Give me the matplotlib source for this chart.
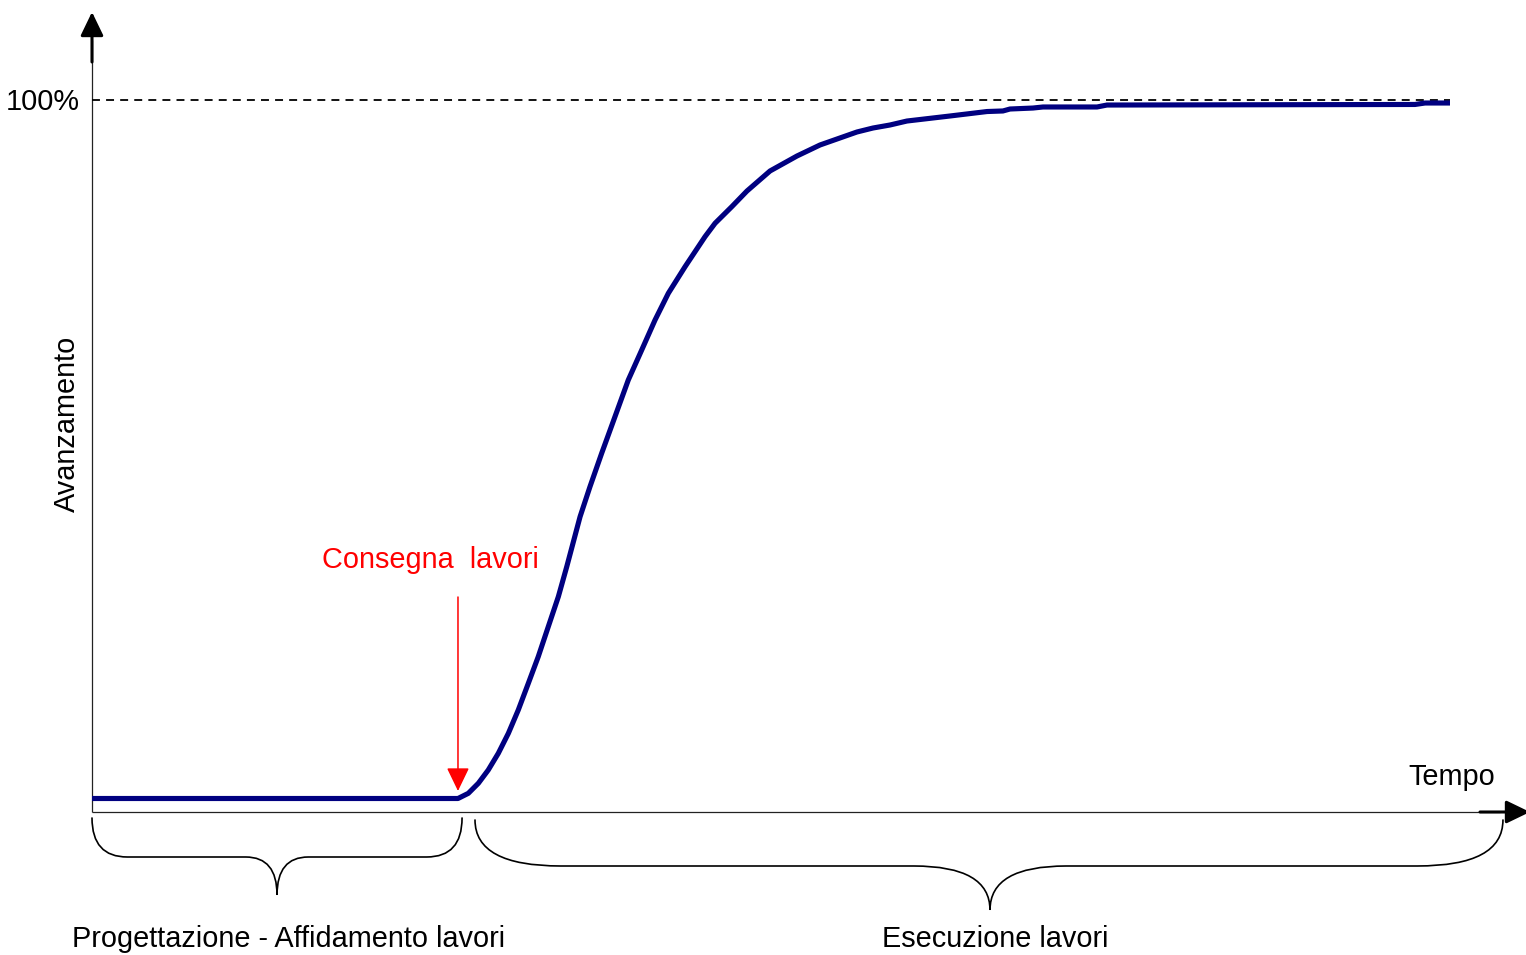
import matplotlib
matplotlib.use("Agg")
import matplotlib.pyplot as plt
from matplotlib.path import Path
from matplotlib.patches import PathPatch

plt.rcParams['font.family'] = ['Liberation Sans', 'DejaVu Sans']

# ---- data (time in arbitrary units 0..100, progress in %) ----
time = [0, 26.95, 27.71, 28.45, 29.18, 29.92, 30.66, 31.39, 32.13, 32.86,
        33.60, 34.34, 34.96, 35.94, 36.67, 37.53, 38.51, 39.49, 40.48, 41.46,
        42.44, 43.67, 45.14, 45.88, 47.11, 48.23, 49.93, 51.91, 53.61, 56.33,
        57.51, 58.76, 60.01, 63.18, 65.91, 67.08, 67.60, 69.29, 70.03, 74.01,
        74.74, 97.42, 98.16, 100.0]
progress = [0, 0, 0.74, 2.18, 4.08, 6.47, 9.33, 12.67, 16.49, 20.30,
            24.60, 28.89, 33.19, 40.34, 44.64, 49.42, 54.66, 59.91, 64.21, 68.50,
            72.33, 76.13, 80.43, 82.35, 84.72, 86.97, 89.84, 91.98, 93.56, 95.42,
            95.99, 96.42, 96.99, 97.71, 98.35, 98.43, 98.71, 98.85, 99.00, 99.00,
            99.28, 99.36, 99.57, 99.57]

consegna_t = 26.95          # start of works
fine_t = 103.9              # end of the execution brace
ylabel = "Avanzamento"
xlabel = "Tempo"
top_label = "100%"
marker_label = "Consegna  lavori"
phase_labels = ["Progettazione - Affidamento lavori", "Esecuzione lavori"]

# ---- figure ----
W, H = 1526, 955
fig = plt.figure(figsize=(W / 100, H / 100), dpi=100)
ax = fig.add_axes([0, 0, 1, 1])
sx = 13.58   # px per time unit
sy = 6.985   # px per percent
x0px, y0px = 92, 798.5
ax.set_xlim(-x0px / sx, (W - x0px) / sx)
ax.set_ylim((y0px - H) / sy, y0px / sy)
ax.axis('off')

def py(p):
    return (y0px - p) / sy

def px(p):
    return (p - x0px) / sx

axis_y = py(812)
FS = 20.8

# axes lines
ax.plot([0, 0], [axis_y, py(40)], color='#222222', lw=0.9, solid_capstyle='butt')
ax.plot([0, px(1500)], [axis_y, axis_y], color='#222222', lw=0.9, solid_capstyle='butt')
arrow_style = '-|>,head_length=1.45,head_width=0.7'
ax.annotate('', xy=(0, py(12)), xytext=(0, py(62)),
            arrowprops=dict(arrowstyle=arrow_style, lw=2.2, color='black',
                            shrinkA=0, shrinkB=0, mutation_scale=10), annotation_clip=False)
ax.annotate('', xy=(px(1530), axis_y), xytext=(px(1480), axis_y),
            arrowprops=dict(arrowstyle=arrow_style, lw=2.2, color='black',
                            shrinkA=0, shrinkB=0, mutation_scale=10), annotation_clip=False)

# 100% dashed line
ax.plot([0, 100], [100, 100], color='black', lw=1.3, linestyle=(0, (4.4, 3.4)))

# curve
ax.plot(time, progress, color='#000080', lw=3.7, solid_capstyle='butt',
        solid_joinstyle='round')

# red arrow "Consegna lavori"
ax.annotate('', xy=(consegna_t, py(791)), xytext=(consegna_t, py(597)),
            arrowprops=dict(arrowstyle='-|>,head_length=1.45,head_width=0.7',
                            lw=1.1, color='#ff0000', shrinkA=0, shrinkB=0,
                            mutation_scale=10))
ax.text(px(430), py(568), marker_label, color='#ff0000', fontsize=FS,
        ha='center', va='baseline')

# texts
ax.text(px(80), py(110), top_label, fontsize=FS, ha='right', va='baseline')
ax.text(px(75), py(424), ylabel, fontsize=FS, rotation=90, rotation_mode='anchor',
        ha='center', va='baseline')
ax.text(px(1452), py(785), xlabel, fontsize=FS, ha='center', va='baseline')


def brace(xa, xb, xm, ytop, ymid, ytip, w, c):
    verts = [(xa, ytop), (xa, ymid), (xa + w, ymid),
             (xm - c, ymid), (xm, ymid), (xm, ytip),
             (xm, ymid), (xm + c, ymid),
             (xb - w, ymid), (xb, ymid), (xb, ytop)]
    codes = [Path.MOVETO, Path.CURVE3, Path.CURVE3,
             Path.LINETO, Path.CURVE3, Path.CURVE3,
             Path.CURVE3, Path.CURVE3,
             Path.LINETO, Path.CURVE3, Path.CURVE3]
    ax.add_patch(PathPatch(Path(verts, codes), fill=False, lw=1.2,
                           edgecolor='black', capstyle='round'))

# braces
brace(0, consegna_t + 0.3, (0 + consegna_t + 0.3) / 2,
      py(818), py(857), py(895), 2.6, 2.3)
brace(px(475), fine_t, px(990), py(820), py(866), py(910), 6.3, 5.6)

ax.text(px(289), py(947), phase_labels[0], fontsize=FS, ha='center', va='baseline')
ax.text(px(995), py(947), phase_labels[1], fontsize=FS, ha='center', va='baseline')

fig.savefig('out.png', dpi=100, facecolor='white')
